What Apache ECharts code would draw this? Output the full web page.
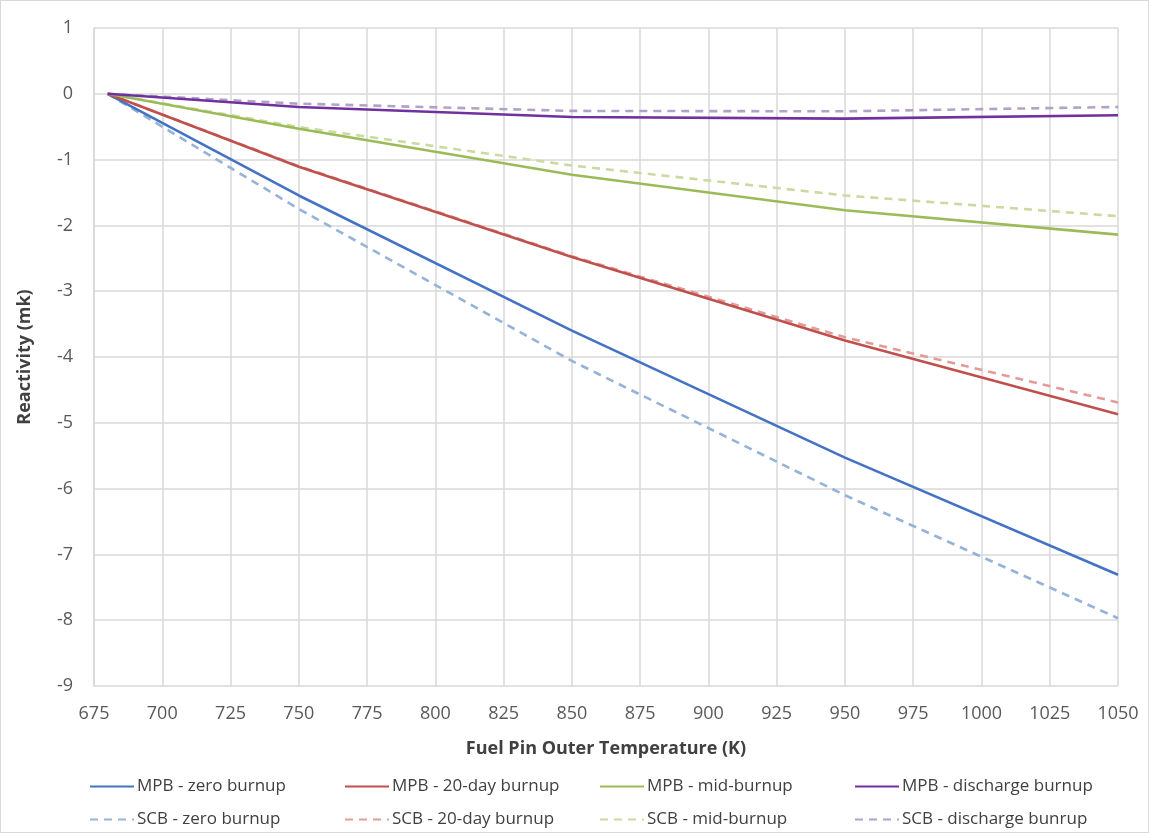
<!DOCTYPE html>
<html>
<head>
<meta charset="utf-8">
<style>
  html, body { margin: 0; padding: 0; background: #fff; }
  #chart { width: 1149px; height: 833px; box-sizing: border-box; border: 1px solid #d9d9d9; }
</style>
<script src="https://cdn.jsdelivr.net/npm/echarts@6/dist/echarts.min.js"></script>
</head>
<body>
<div id="chart"></div>
<script>
// Fuel pin outer temperature (K) at which reactivity was evaluated
const temperatures = [680, 750, 850, 950, 1050];

// Reactivity change (mk) relative to 680 K
const mpbZero      = [0, -1.545, -3.60, -5.53, -7.31];
const mpb20Day     = [0, -1.11, -2.48, -3.75, -4.87];
const mpbMid       = [0, -0.53, -1.23, -1.77, -2.14];
const mpbDischarge = [0, -0.20, -0.353, -0.378, -0.327];
const scbZero      = [0, -1.75, -4.06, -6.10, -7.97];
const scb20Day     = [0, -1.10, -2.47, -3.70, -4.69];
const scbMid       = [0, -0.505, -1.09, -1.545, -1.86];
const scbDischarge = [0, -0.15, -0.26, -0.266, -0.20];

const seriesNames = [
  'MPB - zero burnup', 'MPB - 20-day burnup', 'MPB - mid-burnup', 'MPB - discharge burnup',
  'SCB - zero burnup', 'SCB - 20-day burnup', 'SCB - mid-burnup', 'SCB - discharge bunrup'
];
const seriesValues = [mpbZero, mpb20Day, mpbMid, mpbDischarge, scbZero, scb20Day, scbMid, scbDischarge];
const seriesColors = ['#4472C4', '#C0504D', '#9BBB59', '#7030A0', '#95B3D7', '#E39B99', '#C9DBA0', '#B3A2C7'];

const font = 'Open Sans, Noto Sans, sans-serif';

const series = seriesNames.map((name, i) => ({
  name,
  type: 'line',
  symbol: 'none',
  smooth: false,
  data: temperatures.map((t, k) => [t, seriesValues[i][k]]),
  lineStyle: {
    color: seriesColors[i],
    width: 2.6,
    type: i < 4 ? 'solid' : [8, 6]
  },
  itemStyle: { color: seriesColors[i] },
  z: i < 4 ? 3 : 2
}));

// Legend laid out as 4 columns x 2 rows
const legendCols = [88, 343, 598, 853];
const legendRows = [777, 810];
const legends = seriesNames.map((name, i) => ({
  data: [name],
  left: legendCols[i % 4],
  top: legendRows[Math.floor(i / 4)],
  padding: 0,
  itemWidth: 44,
  itemHeight: 14,
  itemGap: 4,
  itemStyle: { opacity: 0 },
  textStyle: { fontFamily: font, fontSize: 17, color: '#404040', padding: [0, 0, 0, -2] },
  selectedMode: false
}));

const chart = echarts.init(document.getElementById('chart'), null, { renderer: 'canvas' });
chart.setOption({
  animation: false,
  grid: { left: 93, right: 30, top: 27, bottom: 146 },
  legend: legends,
  xAxis: {
    type: 'value',
    min: 675, max: 1050, interval: 25,
    name: 'Fuel Pin Outer Temperature (K)',
    nameLocation: 'middle',
    nameGap: 54,
    nameTextStyle: { fontFamily: font, fontSize: 18, fontWeight: 'bold', color: '#404040' },
    axisLine: { show: false },
    axisTick: { show: false },
    axisLabel: { fontFamily: font, fontSize: 18, color: '#595959', margin: 19, formatter: v => String(v) },
    splitLine: { show: true, lineStyle: { color: '#d9d9d9', width: 1.5 } }
  },
  yAxis: {
    type: 'value',
    min: -9, max: 1, interval: 1,
    name: 'Reactivity (mk)',
    nameLocation: 'middle',
    nameGap: 60,
    nameRotate: 90,
    nameTextStyle: { fontFamily: font, fontSize: 18, fontWeight: 'bold', color: '#404040' },
    axisLine: { show: true, lineStyle: { color: '#d9d9d9', width: 1.5 } },
    axisTick: { show: false },
    axisLabel: { fontFamily: font, fontSize: 18, color: '#595959', margin: 21 },
    splitLine: { show: true, lineStyle: { color: '#d9d9d9', width: 1.5 } }
  },
  series
});
</script>
</body>
</html>
